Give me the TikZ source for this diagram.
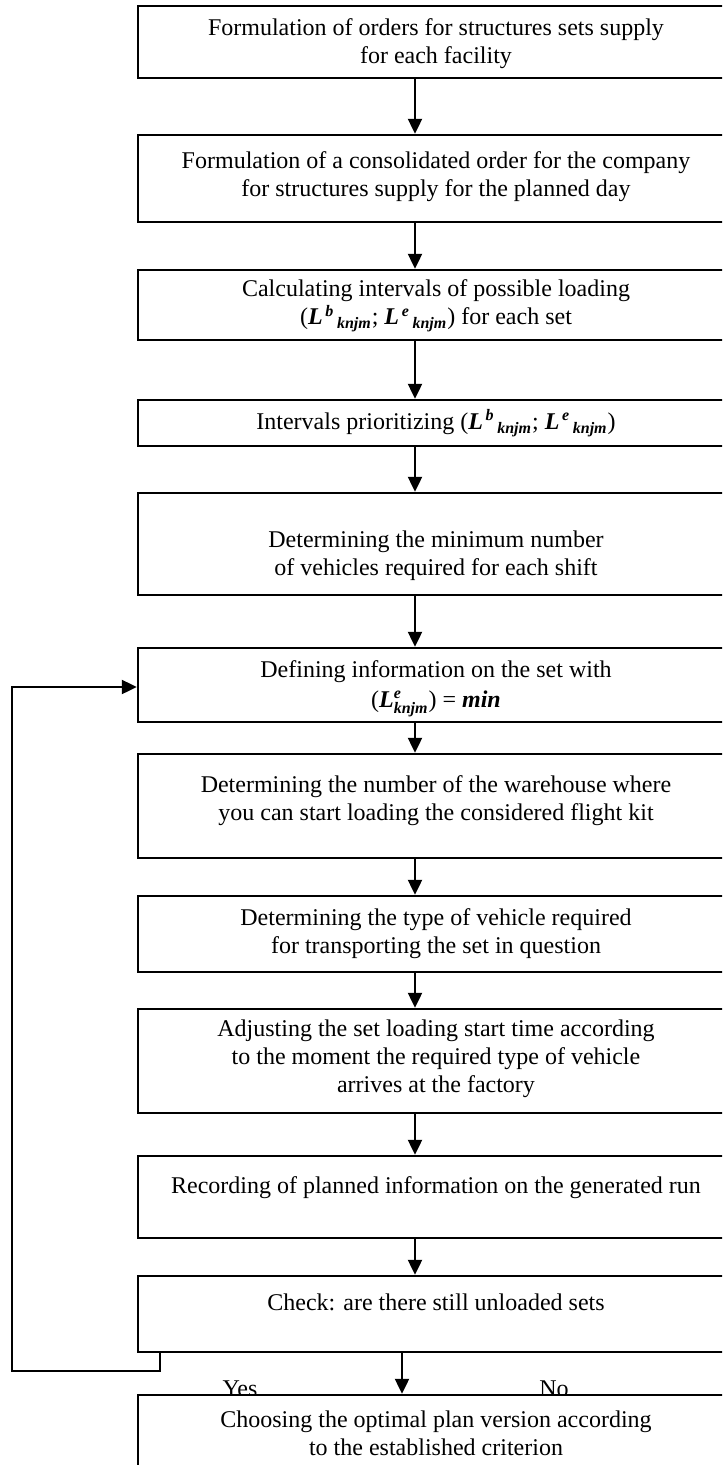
\documentclass[tikz,border=0pt]{standalone}
\usepackage{fontspec}
\setmainfont{Liberation Serif}
\usepackage{amsmath}
\usetikzlibrary{arrows.meta}
\definecolor{boxborder}{HTML}{000000}
\definecolor{boxfill}{HTML}{FFFFFF}
\tikzset{
  box/.style={rectangle, draw=boxborder, fill=boxfill, line width=1.2pt, minimum width=298pt},
  txt/.style={align=center, inner sep=0pt, font=\fontsize{12pt}{14pt}\selectfont},
  answer/.style={anchor=base, inner sep=0pt, font=\fontsize{12pt}{14pt}\selectfont},
  flow/.style={-{Triangle[length=7.5pt, width=7pt]}, line width=1.1pt, draw=boxborder}
}

\begin{document}
\begin{tikzpicture}[x=0.5pt, y=-0.5pt]
\useasboundingbox (0,0) rectangle (722,1465);
\clip (0,0) rectangle (722,1465);

\node[box, minimum height=36pt] (b1) at (436, 42) {};
\node[box, minimum height=43.5pt] (b2) at (436, 178.5) {};
\node[box, minimum height=35pt] (b3) at (436, 305) {};
\node[box, minimum height=23pt] (b4) at (436, 423) {};
\node[box, minimum height=51pt] (b5) at (436, 544) {};
\node[box, minimum height=37pt] (b6) at (436, 685) {};
\node[box, minimum height=52pt] (b7) at (436, 806) {};
\node[box, minimum height=38pt] (b8) at (436, 934) {};
\node[box, minimum height=52pt] (b9) at (436, 1061) {};
\node[box, minimum height=41pt] (b10) at (436, 1197) {};
\node[box, minimum height=38pt] (b11) at (436, 1314) {};

\node[txt] (t1) at (436, 43.5) {Formulation of orders for structures sets supply\\for each facility};
\node[txt] (t2) at (436, 177) {Formulation of a consolidated order for the company\\for structures supply for the planned day};
\node[txt] (t3) at (436, 306) {Calculating intervals of possible loading\\(\textbf{\textit{L}}\textsuperscript{\,\textbf{\textit{b}}}\textsubscript{\,\textbf{\textit{knjm}}}; \textbf{\textit{L}}\textsuperscript{\,\textbf{\textit{e}}}\textsubscript{\,\textbf{\textit{knjm}}}) for each set};
\node[txt] (t4) at (436, 423) {Intervals prioritizing (\textbf{\textit{L}}\textsuperscript{\,\textbf{\textit{b}}}\textsubscript{\,\textbf{\textit{knjm}}}; \textbf{\textit{L}}\textsuperscript{\,\textbf{\textit{e}}}\textsubscript{\,\textbf{\textit{knjm}}})};
\node[txt] (t5) at (436, 556) {Determining the minimum number\\of vehicles required for each shift};
\node[txt] (t6) at (436, 689) {Defining information on the set with\\[1pt](\textbf{\textit{L}}$^{\textbf{\textit{e}}}_{\textbf{\textit{knjm}}}$) = \textbf{\textit{min}}};
\node[txt] (t7) at (436, 801) {Determining the number of the warehouse where\\you can start loading the considered flight kit};
\node[txt] (t8) at (436, 934) {Determining the type of vehicle required\\for transporting the set in question};
\node[txt] (t9) at (436, 1059) {Adjusting the set loading start time according\\to the moment the required type of vehicle\\arrives at the factory};
\node[txt] (t10) at (436, 1188) {Recording of planned information on the generated run};
\node[txt] (t11) at (436, 1302) {Check: are there still unloaded sets};

\node[answer] (yes) at (240, 1396) {Yes};
\node[answer] (no) at (554, 1396) {No};

\node[box, minimum height=47.5pt] (b12) at (436, 1442.5) {};
\node[txt] (t12) at (436, 1433.5) {Choosing the optimal plan version according\\to the established criterion};

\coordinate (axis) at (415, 0);
\coordinate (axisend) at (402, 0);
\coordinate (loopstart) at (160, 0);
\coordinate (loopcorner) at (12, 1371);
\coordinate (loopentry) at (0, 687);

\draw[flow] (b1.south -| axis) -- (b2.north -| axis);
\draw[flow] (b2.south -| axis) -- (b3.north -| axis);
\draw[flow] (b3.south -| axis) -- (b4.north -| axis);
\draw[flow] (b4.south -| axis) -- (b5.north -| axis);
\draw[flow] (b5.south -| axis) -- (b6.north -| axis);
\draw[flow] (b6.south -| axis) -- (b7.north -| axis);
\draw[flow] (b7.south -| axis) -- (b8.north -| axis);
\draw[flow] (b8.south -| axis) -- (b9.north -| axis);
\draw[flow] (b9.south -| axis) -- (b10.north -| axis);
\draw[flow] (b10.south -| axis) -- (b11.north -| axis);
\draw[flow] (b11.south -| axisend) -- (b12.north -| axisend);
\draw[flow] (b11.south -| loopstart) |- (loopcorner) |- (b6.west |- loopentry);

\end{tikzpicture}
\end{document}
